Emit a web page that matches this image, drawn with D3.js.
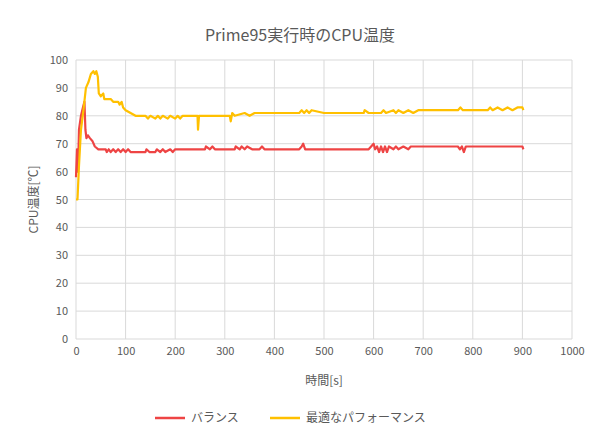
<!DOCTYPE html>
<html><head><meta charset="utf-8">
<script src="https://cdn.jsdelivr.net/npm/d3@7"></script>
<style>body{margin:0;background:#fff}text{font-family:"Noto Sans CJK JP","Noto Sans",sans-serif}</style>
</head><body><svg id="c" width="600" height="442"></svg>
<script>
const seriesNames = ['バランス', '最適なパフォーマンス']
const colors = ['#ee4444', '#ffc000']
const xTicks = d3.range(0, 1001, 100)
const yTicks = d3.range(0, 101, 10)

// [秒, 温度]
const balance = [[0,58],[2,68],[4,60],[6,75],[10,80],[14,83],[17,85],[19,75],[21,72],[24,73],[28,72],[33,71],[38,69],[45,68],
  [60,68],[62,67],[66,68],[70,67],[75,68],[80,67],[85,68],[90,67],[95,68],[100,67],[105,68],[110,67],[140,67],[142,68],[148,67],
  [160,67],[163,68],[170,67],[175,68],[180,67],[190,68],[195,67],[200,68],[260,68],[262,69],[270,68],[275,69],[280,68],
  [320,68],[322,69],[330,68],[334,69],[340,68],[345,69],[355,68],[370,68],[375,69],[380,68],[450,68],[455,69],[458,70],[462,68],
  [590,68],[595,69],[600,70],[603,68],[607,69],[611,67],[615,69],[619,67],[623,69],[627,67],[631,69],[640,68],[645,69],[650,68],
  [660,69],[670,68],[675,69],[680,69],[770,69],[774,68],[778,69],[782,67],[786,69],[900,69],[902,68]]
const performance = [[0,50],[3,50],[6,62],[10,75],[15,82],[20,90],[25,92],[30,95],[35,96],[38,95],[41,96],[44,94],[46,88],[50,87],
  [55,88],[57,86],[70,86],[75,85],[85,85],[88,84],[92,85],[95,83],[100,82],[110,81],[120,80],[140,80],[145,79],[150,80],
  [160,79],[165,80],[170,79],[175,80],[185,79],[190,80],[200,79],[205,80],[210,79],[215,80],[245,80],[246,75],[248,80],
  [310,80],[312,78],[315,81],[320,80],[340,81],[350,80],[360,81],[450,81],[455,82],[460,81],[465,82],[470,81],[475,82],
  [500,81],[580,81],[582,82],[590,81],[615,81],[620,82],[625,81],[640,82],[645,81],[650,82],[660,81],[670,82],[680,81],[690,82],
  [700,82],[770,82],[775,83],[780,82],[830,82],[835,83],[840,82],[850,83],[860,82],[870,83],[880,82],[890,83],[900,83],[902,82]]
const data = [balance, performance]

const svg = d3.select('#c')
const m = {l: 76, r: 28, t: 60, b: 103}
const w = 600 - m.l - m.r, h = 442 - m.t - m.b
const x = d3.scaleLinear().domain([0, 1000]).range([m.l, m.l + w])
const y = d3.scaleLinear().domain([0, 100]).range([m.t + h, m.t])

svg.append('g').selectAll('line').data(yTicks).join('line')
  .attr('x1', m.l).attr('x2', m.l + w).attr('y1', d => y(d)).attr('y2', d => y(d)).attr('stroke', '#d9d9d9')
svg.append('g').selectAll('line').data(xTicks).join('line')
  .attr('y1', m.t).attr('y2', m.t + h).attr('x1', d => x(d)).attr('x2', d => x(d)).attr('stroke', '#d9d9d9')

const ax = svg.append('g').attr('transform', `translate(0,${m.t + h})`)
  .call(d3.axisBottom(x).tickValues(xTicks).tickFormat(d3.format('d')).tickSize(0).tickPadding(8))
const ay = svg.append('g').attr('transform', `translate(${m.l},0)`).call(d3.axisLeft(y).tickValues(yTicks).tickSize(0).tickPadding(8))
;[ax, ay].forEach(a => { a.select('.domain').remove(); a.selectAll('text').attr('fill', '#595959').style('font-size', '11px') })

const line = d3.line().x(d => x(d[0])).y(d => y(d[1]))
data.forEach((s, i) => svg.append('path').datum(s).attr('d', line)
  .attr('fill', 'none').attr('stroke', colors[i]).attr('stroke-width', 2.2).attr('stroke-linejoin', 'round'))

svg.append('text').attr('x', 300).attr('y', 41).attr('text-anchor', 'middle').attr('fill', '#595959').style('font-size', '16px').text('Prime95実行時のCPU温度')
svg.append('text').attr('x', 324).attr('y', 385).attr('text-anchor', 'middle').attr('fill', '#595959').style('font-size', '12px').text('時間[s]')
svg.append('text').attr('transform', `translate(38,${m.t + h / 2}) rotate(-90)`).attr('text-anchor', 'middle').attr('fill', '#595959').style('font-size', '12px').text('CPU温度[℃]')

const lg = svg.append('g')
const lx = [155, 270]
seriesNames.forEach((n, i) => {
  lg.append('line').attr('x1', lx[i]).attr('x2', lx[i] + 30).attr('y1', 418).attr('y2', 418).attr('stroke', colors[i]).attr('stroke-width', 2.5)
  lg.append('text').attr('x', lx[i] + 36).attr('y', 422).attr('fill', '#595959').style('font-size', '12px').text(n)
})
</script></body></html>
